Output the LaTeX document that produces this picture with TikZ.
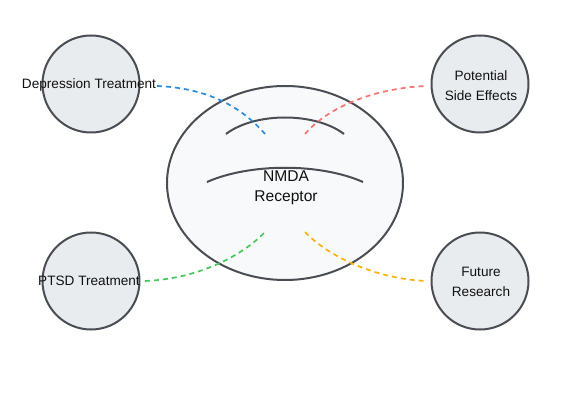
\documentclass[tikz,border=0pt]{standalone}
\usepackage{fontspec}
\setmainfont{Liberation Sans}
\usetikzlibrary{shapes.geometric}
\definecolor{edge}{HTML}{4A4E54}
\definecolor{cfill}{HTML}{E9ECEF}
\definecolor{efill}{HTML}{F8F9FA}
\definecolor{cblue}{HTML}{2B8CE0}
\definecolor{cred}{HTML}{F87272}
\definecolor{cgreen}{HTML}{45C85A}
\definecolor{corange}{HTML}{F9B208}
\definecolor{txt}{HTML}{111111}
\begin{document}
\begin{tikzpicture}[x=1pt,y=-1pt,
  topic/.style={circle,draw=edge,fill=cfill,line width=2pt,minimum size=97pt,inner sep=0pt},
  lbl/.style={text=txt,font=\fontsize{13.6}{20}\selectfont,align=center,inner sep=0pt},
  link/.style={dashed,line width=1.7pt,dash pattern=on 5pt off 4pt}]
\useasboundingbox (0,0) rectangle (570,403);
\node[ellipse,draw=edge,fill=efill,line width=2pt,minimum width=236pt,minimum height=194pt,inner sep=0pt] (core) at (285,183) {};
\draw[edge,line width=2pt] (226,134) .. controls (255,112) and (315,112) .. (344,134);
\draw[edge,line width=2pt] (207,182) .. controls (250,163) and (320,163) .. (363,182);
\node[text=txt,font=\fontsize{15.6}{20}\selectfont,align=center,inner sep=0pt] (t) at (286,188) {NMDA\\Receptor};
\node[topic] (dep) at (91,84) {};
\node[topic] (pse) at (480,84) {};
\node[topic] (ptsd) at (91,281) {};
\node[topic] (fr) at (480,281) {};
\node[lbl] (depl) at (89,85) {Depression Treatment};
\node[lbl] (psel) at (481,86) {Potential\\Side Effects};
\node[lbl] (ptsdl) at (89,281) {PTSD Treatment};
\node[lbl] (frl) at (481,282) {Future\\Research};
\coordinate (b1) at (265,134);
\coordinate (r1) at (305,134);
\coordinate (g1) at (265,232);
\coordinate (o1) at (305,232);
\coordinate (b0) at (157,86);
\coordinate (r0) at (426,86);
\coordinate (g0) at (145,281);
\coordinate (o0) at (426,281);
\draw[link,cblue] (b0) .. controls (205,88) and (240,105) .. (b1);
\draw[link,cred] (r1) .. controls (330,105) and (378,88) .. (r0);
\draw[link,cgreen] (g0) .. controls (195,279) and (240,258) .. (g1);
\draw[link,corange] (o1) .. controls (330,258) and (378,279) .. (o0);
\end{tikzpicture}
\end{document}
